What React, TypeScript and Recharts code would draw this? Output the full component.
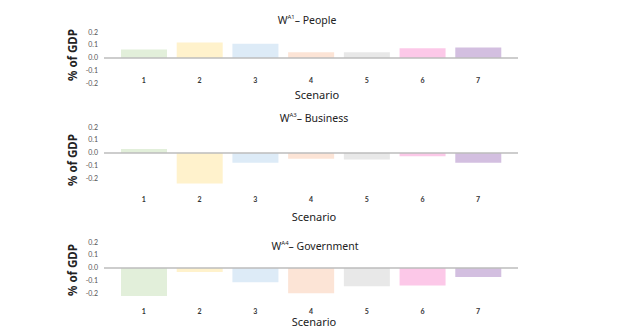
import React from 'react';
import { BarChart, Bar, XAxis, YAxis, Cell, ReferenceLine } from 'recharts';

const scenarios = ['1', '2', '3', '4', '5', '6', '7'];
const peopleValues = [0.065, 0.12, 0.11, 0.045, 0.045, 0.075, 0.08];
const businessValues = [0.03, -0.235, -0.075, -0.045, -0.05, -0.025, -0.075];
const governmentValues = [-0.215, -0.03, -0.11, -0.195, -0.14, -0.135, -0.07];
const yTicks = [-0.2, -0.1, 0, 0.1, 0.2];
const barColors = ['#e2efda', '#fff2cc', '#ddebf7', '#fce4d6', '#e8e8e8', '#fcc8e8', '#d3bfe0'];

const panels = [
  { key: 'p', sup: 'A1', name: 'People', values: peopleValues, zero: 58, titleY: 17, labelY: 80, scenY: 95, yLabelY: 55, titleX: 307, scenX: 317 },
  { key: 'b', sup: 'A3', name: 'Business', values: businessValues, zero: 153, titleY: 115, labelY: 199, scenY: 217, yLabelY: 160, titleX: 314, scenX: 314 },
  { key: 'g', sup: 'A4', name: 'Government', values: governmentValues, zero: 268, titleY: 243, labelY: 311, scenY: 322, yLabelY: 270, titleX: 315, scenX: 314 },
];

const FONT = 'Lato, "Noto Sans", sans-serif';
const MT = 4;
const PLOT_H = 65;
const XH = 40;

function Panel({ cfg }: { cfg: typeof panels[number] }) {
  const data = scenarios.map((s, i) => ({ scenario: s, value: cfg.values[i] }));
  const top = cfg.zero - 26 - MT;
  const plotBottom = cfg.zero + 39;
  const dy = cfg.labelY + 2.5 - plotBottom;
  const XTick = (props: any) => (
    <text x={props.x} y={props.y} dy={dy} textAnchor="middle" fontSize={7} fontWeight={700} fill="#333" fontFamily={FONT}>
      {props.payload.value}
    </text>
  );
  return (
    <>
      <div style={{ position: 'absolute', left: 0, top }}>
        <BarChart width={623} height={MT + PLOT_H + XH} data={data} margin={{ top: MT, right: 105, bottom: 0, left: 0 }} barSize={46}>
          <XAxis dataKey="scenario" axisLine={false} tickLine={false} tickSize={0} tickMargin={0} height={XH} padding={{ left: 12, right: 12 }} tick={XTick} interval={0} />
          <YAxis width={104} domain={[-0.3, 0.2]} ticks={yTicks} interval={0} axisLine={false} tickLine={false} tickSize={0} tickMargin={6}
            tickFormatter={(v: number) => v.toFixed(1)} tick={{ fontSize: 7, fill: '#555', fontFamily: FONT }} />
          <Bar dataKey="value" isAnimationActive={false}>
            {data.map((d, i) => <Cell key={d.scenario} fill={barColors[i]} />)}
          </Bar>
          <ReferenceLine y={0} stroke="#bdbdbd" strokeWidth={1.5} />
        </BarChart>
      </div>
      <div style={{ position: 'absolute', left: cfg.titleX - 60, width: 120, top: cfg.titleY - 8, textAlign: 'center', fontFamily: '"Noto Sans", sans-serif', fontSize: 10.5, lineHeight: '16px', color: '#222', whiteSpace: 'nowrap' }}>
        W<sup style={{ fontSize: 6 }}>{cfg.sup}</sup>– {cfg.name}
      </div>
      <div style={{ position: 'absolute', left: cfg.scenX - 50, width: 100, top: cfg.scenY - 8, textAlign: 'center', fontFamily: '"Noto Sans", sans-serif', fontSize: 11, lineHeight: '16px', color: '#222' }}>
        Scenario
      </div>
      <div style={{ position: 'absolute', left: 73 - 40, width: 80, top: cfg.yLabelY - 8, textAlign: 'center', fontFamily: '"Noto Sans", sans-serif', fontSize: 11.5, fontWeight: 700, lineHeight: '16px', color: '#222', transform: 'rotate(-90deg)', whiteSpace: 'nowrap' }}>
        % of GDP
      </div>
    </>
  );
}

export default function App() {
  return (
    <div style={{ position: 'absolute', left: 0, top: 0, width: 623, height: 328, background: '#fff', overflow: 'hidden' }}>
      {panels.map((p) => <Panel key={p.key} cfg={p} />)}
    </div>
  );
}
